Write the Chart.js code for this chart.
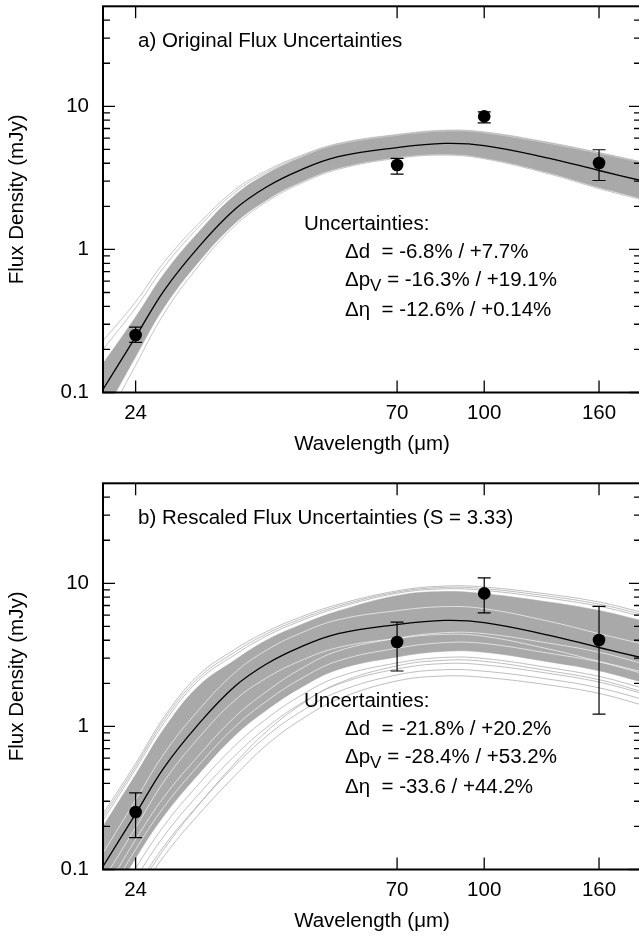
<!DOCTYPE html>
<html lang="en">
<head>
  <meta charset="UTF-8" />
  <title>Thermal Model Fits</title>
  <script src="https://cdn.jsdelivr.net/npm/chart.js"></script>
  <style>
    html, body { margin: 0; padding: 0; background: #fff; overflow: hidden; }
    body { width: 639px; height: 938px; position: relative; }
    .panel { position: absolute; left: 0; width: 650px; height: 477px; }
    #panelA { top: 0; }
    #panelB { top: 477px; }
  </style>
</head>
<body>
  <div class="panel" id="panelA"><canvas id="chartA" width="650" height="477"></canvas></div>
  <div class="panel" id="panelB"><canvas id="chartB" width="650" height="477"></canvas></div>

  <script>
    // observed fluxes (mJy) and their error bars
    const obsWave = [24, 70, 100, 160];
    const obsFlux = [0.252, 3.89, 8.5, 4.02];
    const errLowA = [0.224, 3.36, 7.67, 3.03];
    const errHighA = [0.286, 4.33, 9.14, 4.97];
    const errLowB = [0.167, 2.44, 6.22, 1.22];
    const errHighB = [0.343, 5.36, 10.9, 6.89];

    // model curves are all sampled at these wavelengths (micron)
    const modelWave = [21, 24, 27, 31, 36, 41, 47, 55, 70, 85, 100, 130, 160, 190];
    const bestFit = [0.105, 0.245, 0.52, 1.03, 1.9, 2.73, 3.57, 4.45, 5.15, 5.5, 5.32, 4.35, 3.56, 3.03];

    // panel a: spread of the monte carlo fits
    const bandHighA = [0.159, 0.337, 0.681, 1.31, 2.38, 3.36, 4.36, 5.38, 6.23, 6.66, 6.49, 5.48, 4.66, 4.03];
    const bandLowA = [0.069, 0.178, 0.397, 0.81, 1.52, 2.21, 2.93, 3.69, 4.39, 4.62, 4.36, 3.44, 2.71, 2.27];
    const strayA = [
      [0.23, 0.43, 0.82, 1.5, 2.6, 3.55, 4.5, 5.5, 6.35, 6.8, 6.62, 5.6, 4.75, 4.1],
      [0.2, 0.39, 0.76, 1.42, 2.5, 3.45, 4.43, 5.45, 6.3, 6.74, 6.56, 5.55, 4.72, 4.07],
      [0.058, 0.155, 0.36, 0.76, 1.46, 2.15, 2.87, 3.63, 4.33, 4.56, 4.3, 3.38, 2.66, 2.23]
    ];

    // panel b: much wider spread
    const bandHighB = [0.2, 0.46, 0.97, 1.9, 2.9, 4.0, 5.1, 6.4, 8.2, 8.75, 8.45, 7.4, 6.45, 5.5];
    const bandLowB = [0.05, 0.12, 0.24, 0.46, 0.86, 1.3, 1.85, 2.5, 3.06, 3.35, 3.3, 2.83, 2.45, 2.05];
    const strayB = [
      [0.245, 0.55, 1.17, 2.27, 3.45, 4.59, 5.78, 7.12, 8.86, 9.57, 9.42, 8.4, 7.4, 6.3],
      [0.233, 0.526, 1.12, 2.17, 3.3, 4.43, 5.6, 6.93, 8.69, 9.36, 9.17, 8.14, 7.15, 6.09],
      [0.221, 0.503, 1.065, 2.08, 3.16, 4.28, 5.43, 6.75, 8.52, 9.15, 8.92, 7.88, 6.91, 5.89],
      [0.026, 0.062, 0.125, 0.24, 0.45, 0.74, 1.1, 1.55, 2.08, 2.25, 2.2, 1.95, 1.7, 1.42],
      [0.031, 0.073, 0.147, 0.282, 0.529, 0.852, 1.254, 1.747, 2.29, 2.49, 2.43, 2.14, 1.86, 1.56],
      [0.036, 0.086, 0.173, 0.332, 0.622, 0.98, 1.43, 1.97, 2.52, 2.75, 2.69, 2.35, 2.04, 1.71],
      [0.042, 0.102, 0.204, 0.391, 0.731, 1.129, 1.626, 2.219, 2.777, 3.035, 2.98, 2.579, 2.236, 1.87],
      [0.028, 0.068, 0.14, 0.28, 0.55, 0.92, 1.4, 2.0, 2.65, 2.9, 2.85, 2.45, 2.12, 1.76]
    ];
    const gapsB = [
      [0.057, 0.138, 0.276, 0.53, 0.99, 1.5, 2.13, 2.87, 3.52, 3.85, 3.8, 3.25, 2.82, 2.36],
      [0.067, 0.162, 0.324, 0.62, 1.16, 1.75, 2.5, 3.37, 4.13, 4.52, 4.45, 3.82, 3.3, 2.77],
      [0.084, 0.196, 0.416, 0.824, 1.52, 2.18, 2.86, 3.56, 4.12, 4.4, 4.26, 3.48, 2.85, 2.42],
      [0.13, 0.306, 0.65, 1.29, 2.37, 3.41, 4.46, 5.56, 6.44, 6.87, 6.65, 5.44, 4.45, 3.79]
    ];

    // axis ticks
    const xTicks = [24, 70, 100, 160];
    const yTicks = [0.1, 1, 10];
    const yMinor = [0.2, 0.3, 0.4, 0.5, 0.6, 0.7, 0.8, 0.9, 2, 3, 4, 5, 6, 7, 8, 9, 20, 30, 40];

    // panel texts
    const titles = ["a) Original Flux Uncertainties", "b) Rescaled Flux Uncertainties (S = 3.33)"];
    const deltaD = ["-6.8% / +7.7%", "-21.8% / +20.2%"];
    const deltaP = ["-16.3% / +19.1%", "-28.4% / +53.2%"];
    const deltaEta = ["-12.6% / +0.14%", "-33.6 / +44.2%"];

    const FAMILY = "'Liberation Sans', Arial, Helvetica, sans-serif";
    const FONT = { family: FAMILY, size: 20.5 };

    function curve(vals) {
      return modelWave.map((w, i) => ({ x: w, y: vals[i] }));
    }

    function line(data, color, width, order) {
      return {
        data, borderColor: color, borderWidth: width, pointRadius: 0,
        fill: false, tension: 0.4, order
      };
    }

    const panelDecor = {
      id: "panelDecor",
      afterDatasetsDraw(chart, args, opts) {
        const { ctx, scales: { x, y } } = chart;
        ctx.save();
        ctx.strokeStyle = "#000";
        ctx.lineWidth = 1.2;
        opts.lo.forEach((lo, i) => {
          const px = x.getPixelForValue(obsWave[i]);
          const y1 = y.getPixelForValue(lo);
          const y2 = y.getPixelForValue(opts.hi[i]);
          ctx.beginPath();
          ctx.moveTo(px, y1); ctx.lineTo(px, y2);
          ctx.moveTo(px - 6.5, y1); ctx.lineTo(px + 6.5, y1);
          ctx.moveTo(px - 6.5, y2); ctx.lineTo(px + 6.5, y2);
          ctx.stroke();
        });
        ctx.restore();
      },
      afterDraw(chart, args, opts) {
        const { ctx, chartArea: a, scales: { x, y } } = chart;
        ctx.save();
        ctx.strokeStyle = "#000";

        // inward ticks
        ctx.lineWidth = 1.3;
        ctx.beginPath();
        xTicks.forEach(v => {
          const px = x.getPixelForValue(v);
          ctx.moveTo(px, a.bottom); ctx.lineTo(px, a.bottom - 12);
          ctx.moveTo(px, a.top); ctx.lineTo(px, a.top + 12);
        });
        yTicks.forEach(v => {
          const py = y.getPixelForValue(v);
          ctx.moveTo(a.left, py); ctx.lineTo(a.left + 12, py);
          ctx.moveTo(a.right, py); ctx.lineTo(a.right - 12, py);
        });
        yMinor.forEach(v => {
          const py = y.getPixelForValue(v);
          ctx.moveTo(a.left, py); ctx.lineTo(a.left + 7, py);
          ctx.moveTo(a.right, py); ctx.lineTo(a.right - 7, py);
        });
        ctx.stroke();

        // frame
        ctx.lineWidth = 2;
        ctx.strokeRect(a.left, a.top, a.right - a.left, a.bottom - a.top);

        // labels inside the plot
        const k = opts.index;
        const main = "20.5px " + FAMILY;
        ctx.fillStyle = "#000";
        ctx.font = main;
        ctx.textBaseline = "alphabetic";
        ctx.textAlign = "left";
        ctx.fillText(titles[k], a.left + 35, a.top + 40.3);
        ctx.fillText("Uncertainties:", a.left + 201, a.top + 223.7);
        const lx = a.left + 242;
        ctx.fillText("\u0394d  = " + deltaD[k], lx, a.top + 252);
        ctx.fillText("\u0394p", lx, a.top + 279.7);
        let w = ctx.measureText("\u0394p").width;
        ctx.font = "17px " + FAMILY;
        ctx.fillText("V", lx + w, a.top + 284.7);
        w += ctx.measureText("V").width;
        ctx.font = main;
        ctx.fillText(" = " + deltaP[k], lx + w, a.top + 279.7);
        ctx.fillText("\u0394\u03b7  = " + deltaEta[k], lx, a.top + 309.3);
        ctx.restore();
      }
    };

    function axes() {
      return {
        x: {
          type: "logarithmic", min: 21, max: 190,
          grid: { display: false, drawTicks: false }, border: { display: false },
          afterBuildTicks: s => { s.ticks = xTicks.map(v => ({ value: v })); },
          afterFit: s => { s.height = 84.5; s.paddingLeft = 0; s.paddingRight = 0; },
          ticks: { font: FONT, color: "#000", padding: 8.5, maxRotation: 0, autoSkip: false,
                   callback: v => String(v) },
          title: { display: true, text: "Wavelength (\u03bcm)", font: FONT, color: "#000",
                   padding: { top: 0, bottom: 20.5 } }
        },
        y: {
          type: "logarithmic", min: 0.1, max: 50,
          grid: { display: false, drawTicks: false }, border: { display: false },
          afterBuildTicks: s => { s.ticks = yTicks.map(v => ({ value: v })); },
          afterFit: s => { s.width = 103; s.paddingTop = 0; s.paddingBottom = 0; },
          ticks: { font: FONT, color: "#000", padding: 14, autoSkip: false,
                   callback: v => String(v) },
          title: { display: true, text: "Flux Density (mJy)", font: FONT, color: "#000",
                   padding: { top: 4.9, bottom: 0 } }
        }
      };
    }

    function makeChart(id, index, datasets, lo, hi) {
      return new Chart(document.getElementById(id), {
        type: "line",
        data: { datasets },
        options: {
          responsive: false,
          animation: false,
          layout: { padding: { top: 3, right: 9, left: 0, bottom: 0 } },
          plugins: {
            legend: { display: false },
            tooltip: { enabled: false },
            panelDecor: { index, lo, hi }
          },
          scales: axes()
        },
        plugins: [panelDecor]
      });
    }

    const pointsSet = () => ({
      data: obsWave.map((w, i) => ({ x: w, y: obsFlux[i] })), showLine: false, pointRadius: 6.3,
      pointBackgroundColor: "#000", pointBorderWidth: 0, order: 0
    });

    // panel a
    const setsA = [
      pointsSet(),
      line(curve(bestFit), "#000", 1.3, 1),
      { ...line(curve(bandHighA), "#a9a9a9", 0.6, 5), fill: "+1", backgroundColor: "#a9a9a9" },
      line(curve(bandLowA), "#a9a9a9", 0.6, 5)
    ];
    strayA.forEach(v => setsA.push(line(curve(v), "#b5b5b5", 0.8, 3)));
    makeChart("chartA", 0, setsA, errLowA, errHighA);

    // panel b
    const setsB = [
      pointsSet(),
      line(curve(bestFit), "#000", 1.3, 1),
      { ...line(curve(bandHighB), "#a9a9a9", 0.6, 5), fill: "+1", backgroundColor: "#a9a9a9" },
      line(curve(bandLowB), "#a9a9a9", 0.6, 5)
    ];
    gapsB.forEach(v => setsB.push(line(curve(v), "rgba(255,255,255,0.8)", 0.8, 4)));
    strayB.forEach(v => setsB.push(line(curve(v), "#adadad", 0.8, 3)));
    makeChart("chartB", 1, setsB, errLowB, errHighB);
  </script>
</body>
</html>
